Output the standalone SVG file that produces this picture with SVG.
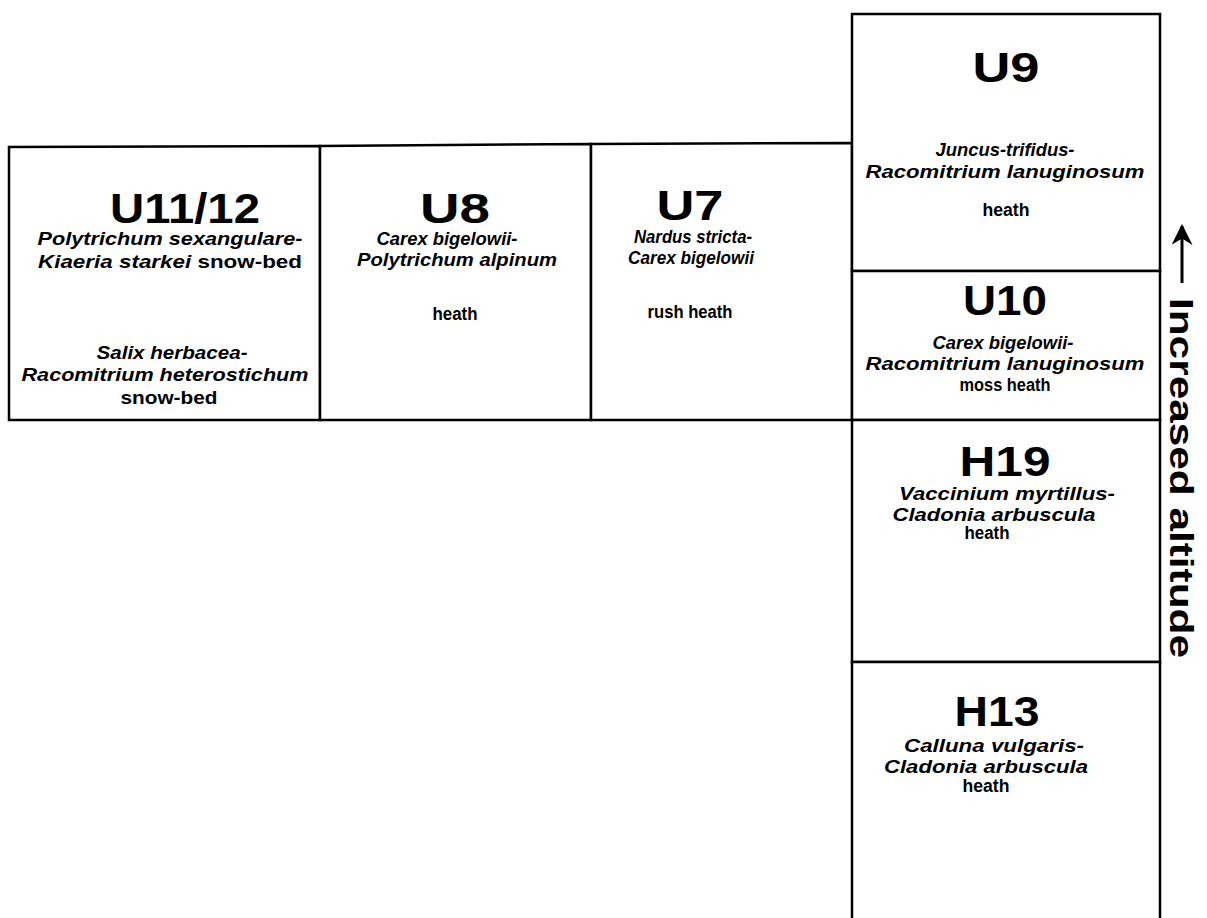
<svg xmlns="http://www.w3.org/2000/svg" width="1207" height="918" viewBox="0 0 1207 918">
  <style>
    .box { fill: #ffffff; stroke: #000000; stroke-width: 2.5; }
    .ttl { font-family: "Liberation Sans", Arial, sans-serif; font-weight: bold; font-size: 42px; text-anchor: middle; fill: #000; }
    .sp { font-family: "Liberation Sans", Arial, sans-serif; font-weight: bold; font-style: italic; font-size: 18px; text-anchor: middle; fill: #000; }
    .tx { font-family: "Liberation Sans", Arial, sans-serif; font-weight: bold; font-size: 18px; text-anchor: middle; fill: #000; }
    .up { font-style: normal; }
    .axis { font-family: "Liberation Sans", Arial, sans-serif; font-weight: bold; font-size: 34px; fill: #000; }
    .arrow { stroke: #000; stroke-width: 3; fill: none; }
  </style>
  <defs>
    <marker id="head" viewBox="0 0 10 10" refX="9" refY="5" markerWidth="7" markerHeight="7" orient="auto" markerUnits="strokeWidth">
      <path d="M0,0 L10,5 L0,10 L3,5 Z" fill="#000"/>
    </marker>
  </defs>
  <rect width="1207" height="918" fill="#ffffff"/>

  <!-- upland row -->
  <g id="node-u11-12">
    <path class="box" d="M9,147 L320,146 L320,420 L9,420 Z"/>
    <text class="ttl" x="185" y="223" textLength="150" lengthAdjust="spacingAndGlyphs">U11/12</text>
    <text class="sp" x="170" y="245" textLength="265" lengthAdjust="spacingAndGlyphs">Polytrichum sexangulare-</text>
    <text class="sp" x="170" y="268" textLength="264" lengthAdjust="spacingAndGlyphs">Kiaeria starkei<tspan class="up"> snow-bed</tspan></text>
    <text class="sp" x="172" y="359" textLength="151" lengthAdjust="spacingAndGlyphs">Salix herbacea-</text>
    <text class="sp" x="165" y="381" textLength="287" lengthAdjust="spacingAndGlyphs">Racomitrium heterostichum</text>
    <text class="tx" x="169" y="404" textLength="97" lengthAdjust="spacingAndGlyphs">snow-bed</text>
  </g>

  <g id="node-u8">
    <path class="box" d="M320,146 L591,144 L591,420 L320,420 Z"/>
    <text class="ttl" x="455" y="223" textLength="70" lengthAdjust="spacingAndGlyphs">U8</text>
    <text class="sp" x="447" y="245" textLength="141" lengthAdjust="spacingAndGlyphs">Carex bigelowii-</text>
    <text class="sp" x="457" y="266" textLength="200" lengthAdjust="spacingAndGlyphs">Polytrichum alpinum</text>
    <text class="tx" x="455" y="320" textLength="45" lengthAdjust="spacingAndGlyphs">heath</text>
  </g>

  <g id="node-u7">
    <path class="box" d="M591,144 L852,143 L852,420 L591,420 Z"/>
    <text class="ttl" x="690" y="220" textLength="67" lengthAdjust="spacingAndGlyphs">U7</text>
    <text class="sp" x="693" y="243" textLength="118" lengthAdjust="spacingAndGlyphs">Nardus stricta-</text>
    <text class="sp" x="691" y="264" textLength="126" lengthAdjust="spacingAndGlyphs">Carex bigelowii</text>
    <text class="tx" x="690" y="318" textLength="85" lengthAdjust="spacingAndGlyphs">rush heath</text>
  </g>

  <!-- altitude column -->
  <g id="node-u9">
    <rect class="box" x="852" y="14" width="308" height="257"/>
    <text class="ttl" x="1006" y="82" textLength="67" lengthAdjust="spacingAndGlyphs">U9</text>
    <text class="sp" x="1005" y="156" textLength="139" lengthAdjust="spacingAndGlyphs">Juncus-trifidus-</text>
    <text class="sp" x="1005" y="178" textLength="279" lengthAdjust="spacingAndGlyphs">Racomitrium lanuginosum</text>
    <text class="tx" x="1006" y="216" textLength="47" lengthAdjust="spacingAndGlyphs">heath</text>
  </g>

  <g id="node-u10">
    <rect class="box" x="852" y="271" width="308" height="149"/>
    <text class="ttl" x="1005" y="315" textLength="84" lengthAdjust="spacingAndGlyphs">U10</text>
    <text class="sp" x="1003" y="349" textLength="141" lengthAdjust="spacingAndGlyphs">Carex bigelowii-</text>
    <text class="sp" x="1005" y="370" textLength="279" lengthAdjust="spacingAndGlyphs">Racomitrium lanuginosum</text>
    <text class="tx" x="1005" y="391" textLength="91" lengthAdjust="spacingAndGlyphs">moss heath</text>
  </g>

  <g id="node-h19">
    <rect class="box" x="852" y="420" width="308" height="242"/>
    <text class="ttl" x="1005" y="476" textLength="91" lengthAdjust="spacingAndGlyphs">H19</text>
    <text class="sp" x="1007" y="500" textLength="216" lengthAdjust="spacingAndGlyphs">Vaccinium myrtillus-</text>
    <text class="sp" x="994" y="521" textLength="203" lengthAdjust="spacingAndGlyphs">Cladonia arbuscula</text>
    <text class="tx" x="987" y="539" textLength="45" lengthAdjust="spacingAndGlyphs">heath</text>
  </g>

  <g id="node-h13">
    <path class="box" d="M852,920 L852,662 L1160,662 L1160,920"/>
    <text class="ttl" x="997" y="726" textLength="85" lengthAdjust="spacingAndGlyphs">H13</text>
    <text class="sp" x="994" y="752" textLength="180" lengthAdjust="spacingAndGlyphs">Calluna vulgaris-</text>
    <text class="sp" x="986" y="773" textLength="204" lengthAdjust="spacingAndGlyphs">Cladonia arbuscula</text>
    <text class="tx" x="986" y="792" textLength="47" lengthAdjust="spacingAndGlyphs">heath</text>
  </g>

  <!-- altitude axis: upward arrow and label -->
  <g id="connectors">
    <line class="arrow" x1="1182" y1="283" x2="1182" y2="226" marker-end="url(#head)"/>
  </g>
  <g id="axis-label">
    <text class="axis" transform="translate(1170,298) rotate(90)" x="0" y="0" textLength="360" lengthAdjust="spacingAndGlyphs">Increased altitude</text>
  </g>
</svg>
